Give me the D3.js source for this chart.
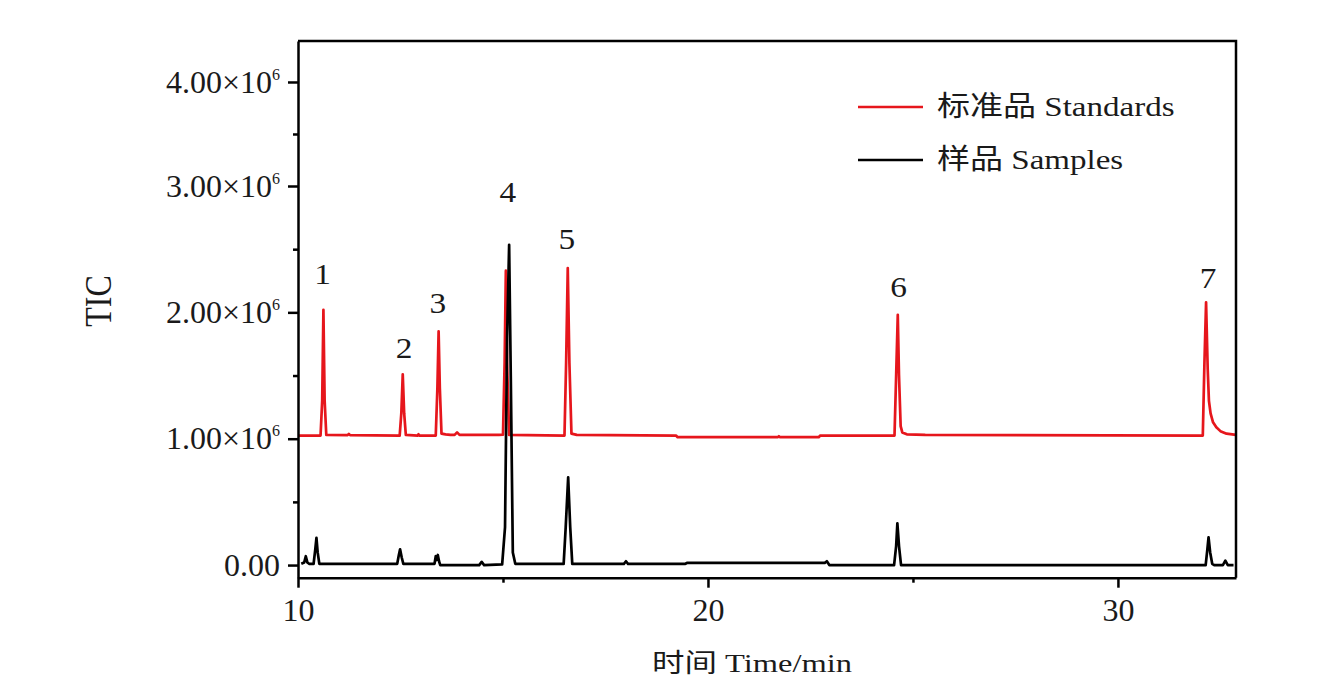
<!DOCTYPE html>
<html>
<head>
<meta charset="utf-8">
<script src="https://cdn.jsdelivr.net/npm/d3@7"></script>
<style>
  body { margin: 0; background: #fff; }
  svg { display: block; }
</style>
</head>
<body>
<script>
// TIC values are in units of 10^6
const xTicks = [10, 20, 30];
const xMinor = [15, 25];
const yTicks = [0, 1, 2, 3, 4];
const yMinor = [0.5, 1.5, 2.5, 3.5];

const seriesNames = ["标准品 Standards", "样品 Samples"];
const seriesColors = ["#e6161c", "#000000"];

// standards trace [time (min), TIC]
const stdTrace = [
  [10.00, 1.025], [10.55, 1.025], [10.59, 1.30], [10.62, 2.02], [10.65, 1.30], [10.69, 1.030],
  [11.21, 1.028], [11.24, 1.038], [11.27, 1.028],
  [12.48, 1.025], [12.52, 1.20], [12.555, 1.51], [12.59, 1.20], [12.63, 1.030],
  [12.92, 1.025], [12.94, 1.035], [12.96, 1.025],
  [13.36, 1.025], [13.40, 1.40], [13.43, 1.85], [13.46, 1.40], [13.50, 1.040], [13.60, 1.034], [13.72, 1.030],
  [13.82, 1.030], [13.88, 1.050], [13.94, 1.030],
  [14.90, 1.030], [15.00, 1.032], [15.04, 1.60], [15.07, 2.33], [15.10, 1.60], [15.15, 1.030],
  [16.50, 1.025], [16.54, 1.60], [16.58, 2.35], [16.62, 1.60], [16.67, 1.040], [16.80, 1.030],
  [19.22, 1.025], [19.26, 1.012], [21.70, 1.012], [21.73, 1.020], [21.76, 1.012],
  [22.70, 1.012], [22.74, 1.025],
  [24.55, 1.025], [24.59, 1.50], [24.63, 1.98], [24.66, 1.50], [24.70, 1.10], [24.74, 1.050], [24.85, 1.035], [25.30, 1.030],
  [32.07, 1.025], [32.11, 1.60], [32.15, 2.08], [32.19, 1.55], [32.22, 1.30], [32.26, 1.20],
  [32.32, 1.13], [32.40, 1.09], [32.50, 1.060], [32.65, 1.040], [32.88, 1.030]
];

// samples trace [time (min), TIC]
const smpTrace = [
  [10.08, 0.010], [10.15, 0.020], [10.19, 0.070], [10.23, 0.020], [10.27, 0.010],
  [10.38, 0.010], [10.42, 0.120], [10.45, 0.215], [10.48, 0.100], [10.52, 0.010],
  [12.42, 0.010], [12.46, 0.080], [12.49, 0.125], [12.53, 0.060], [12.57, 0.010],
  [13.33, 0.010], [13.36, 0.070], [13.38, 0.040], [13.41, 0.080], [13.44, 0.030], [13.47, 0.000],
  [14.42, 0.000], [14.48, 0.025], [14.54, 0.000],
  [14.98, 0.005], [15.05, 0.30], [15.10, 1.80], [15.15, 2.535], [15.19, 1.50], [15.24, 0.10], [15.30, 0.010],
  [16.48, 0.010], [16.53, 0.30], [16.59, 0.695], [16.64, 0.30], [16.69, 0.010],
  [17.95, 0.010], [18.00, 0.030], [18.05, 0.010],
  [19.45, 0.010], [19.50, 0.018], [22.85, 0.018], [22.90, 0.030], [22.96, 0.000],
  [24.54, 0.000], [24.59, 0.150], [24.62, 0.330], [24.66, 0.150], [24.71, 0.000],
  [32.14, 0.000], [32.18, 0.120], [32.21, 0.220], [32.25, 0.100], [32.30, 0.010], [32.35, 0.000],
  [32.56, 0.000], [32.62, 0.035], [32.68, 0.000], [32.82, 0.000]
];

// peak numbers: retention time and the TIC level the number sits at
const peakIds = ["1", "2", "3", "4", "5", "6", "7"];
const peakTimes = [10.60, 12.59, 13.41, 15.12, 16.56, 24.65, 32.20];
const peakLabelTIC = [2.30, 1.72, 2.07, 2.95, 2.58, 2.20, 2.27];

const FONT = '"Liberation Serif", "Times New Roman", "Noto Sans CJK SC", serif';

const svg = d3.select("body").append("svg")
  .attr("width", 1327)
  .attr("height", 697)
  .style("background", "#fff");

const x = d3.scaleLinear().domain([10, 32.88]).range([298, 1236]);
// the printed y axis is not evenly spaced above 3x10^6
const y = d3.scaleLinear().domain([-0.1, 3, 4.394]).range([577.7, 186, 41]);

const line = d3.line()
  .x(d => x(d[0]))
  .y(d => y(d[1]));

// traces, samples drawn over standards
[stdTrace, smpTrace].forEach((tr, i) => {
  svg.append("path")
    .datum(tr)
    .attr("d", line)
    .attr("fill", "none")
    .attr("stroke", seriesColors[i])
    .attr("stroke-width", 2.7)
    .attr("stroke-linejoin", "round");
});

// frame top and right
svg.append("path")
  .attr("d", `M${x.range()[0]},${y(y.domain()[2])}H${x.range()[1]}V${y(y.domain()[0])}`)
  .attr("fill", "none")
  .attr("stroke", "#000")
  .attr("stroke-width", 2.5);

function styleAxis(g) {
  g.selectAll(".domain, .tick line").attr("stroke", "#000").attr("stroke-width", 2.5);
  g.selectAll("text").attr("font-family", FONT).attr("font-size", 32).attr("fill", "#1a1a1a");
}

// y axis
const yAxis = svg.append("g")
  .attr("transform", `translate(${x(10)},0)`)
  .call(d3.axisLeft(y).tickValues(yTicks).tickSize(10).tickSizeOuter(0).tickPadding(8).tickFormat(""))
  .call(styleAxis);

yAxis.selectAll(".tick text").each(function(d) {
  const t = d3.select(this);
  if (d === 0) {
    t.text("0.00");
  } else {
    t.append("tspan").text(d.toFixed(2) + "×10");
    t.append("tspan").attr("font-size", 16).attr("dy", -13).text("6");
  }
});

svg.append("g")
  .attr("transform", `translate(${x(10)},0)`)
  .call(d3.axisLeft(y).tickValues(yMinor).tickSize(5).tickFormat(""))
  .call(styleAxis)
  .select(".domain").remove();

// x axis
svg.append("g")
  .attr("transform", `translate(0,${y(y.domain()[0])})`)
  .call(d3.axisBottom(x).tickValues(xTicks).tickSize(10).tickSizeOuter(0).tickPadding(11))
  .call(styleAxis);

svg.append("g")
  .attr("transform", `translate(0,${y(y.domain()[0])})`)
  .call(d3.axisBottom(x).tickValues(xMinor).tickSize(5).tickFormat(""))
  .call(styleAxis)
  .select(".domain").remove();

// axis titles
svg.append("text")
  .attr("transform", "translate(111,301) scale(1.18,1) rotate(-90)")
  .attr("text-anchor", "middle")
  .attr("font-family", FONT)
  .attr("font-size", 32)
  .attr("fill", "#1a1a1a")
  .text("TIC");

svg.append("text")
  .attr("transform", "translate(752,672) scale(1.25,1)")
  .attr("text-anchor", "middle")
  .attr("font-family", FONT)
  .attr("font-size", 26)
  .attr("fill", "#1a1a1a")
  .text("时间 Time/min");

// peak numbers
svg.selectAll("text.peak")
  .data(peakIds)
  .join("text")
    .attr("class", "peak")
    .attr("transform", (d, i) => `translate(${x(peakTimes[i])},${y(peakLabelTIC[i])}) scale(1.15,1)`)
    .attr("dy", "0.34em")
    .attr("text-anchor", "middle")
    .attr("font-family", FONT)
    .attr("font-size", 29)
    .attr("fill", "#1a1a1a")
    .text(d => d);

// legend
const legend = svg.append("g").attr("transform", "translate(858,107)");
const rows = legend.selectAll("g")
  .data(seriesNames)
  .join("g")
    .attr("transform", (d, i) => `translate(0,${i * 53})`);

rows.append("line")
  .attr("x1", 0)
  .attr("x2", 65)
  .attr("stroke", (d, i) => seriesColors[i])
  .attr("stroke-width", 2.6);

rows.append("text")
  .attr("transform", "translate(79,9) scale(1.18,1)")
  .attr("font-family", FONT)
  .attr("font-size", 28)
  .attr("fill", "#1a1a1a")
  .text(d => d);
</script>
</body>
</html>
